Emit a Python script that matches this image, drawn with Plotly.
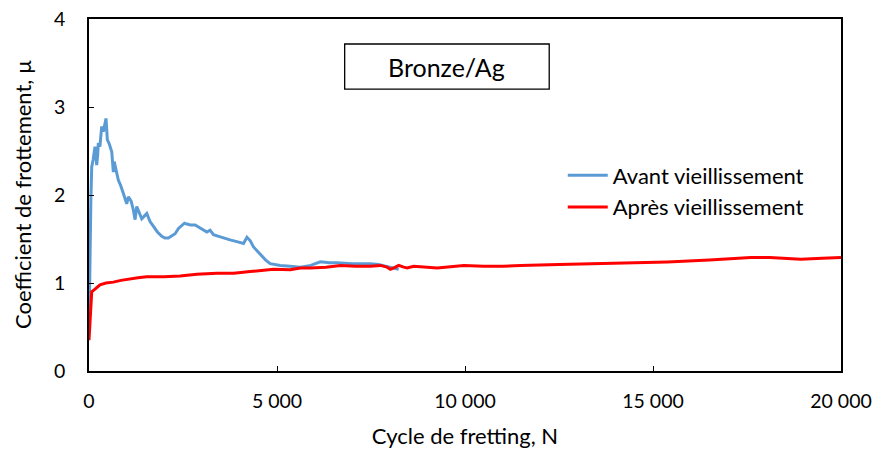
import plotly.graph_objects as go

# Friction coefficient vs. fretting cycles, Bronze/Ag contact
avant_cycles = [0, 20, 50, 72, 110, 160, 205, 230, 248, 290, 338, 381, 420, 453, 487,
                540, 605, 647, 670, 692, 740, 780, 850, 913, 960, 1004, 1047, 1120,
                1180, 1225, 1270, 1340, 1403, 1470, 1537, 1620, 1712, 1820, 1936, 2020,
                2112, 2200, 2290, 2380, 2469, 2540, 2602, 2700, 2823, 2950, 3050, 3134,
                3220, 3310, 3450, 3577, 3750, 3933, 4020, 4109, 4200, 4290, 4375, 4480,
                4599, 4700, 4820, 4950, 5086, 5350, 5619, 5900, 6152, 6400, 6596, 7000,
                7483, 7700, 7927, 8100, 8237]
avant_mu = [0.45, 1.30, 1.95, 2.32, 2.40, 2.55, 2.34, 2.45, 2.59, 2.55, 2.78, 2.72, 2.80,
            2.87, 2.63, 2.58, 2.49, 2.26, 2.38, 2.34, 2.22, 2.17, 2.10, 2.02, 1.96, 1.90,
            1.98, 1.93, 1.83, 1.72, 1.87, 1.80, 1.73, 1.76, 1.79, 1.70, 1.64, 1.58, 1.53,
            1.51, 1.51, 1.54, 1.56, 1.62, 1.66, 1.68, 1.67, 1.66, 1.66, 1.63, 1.60, 1.58,
            1.60, 1.55, 1.53, 1.51, 1.49, 1.47, 1.46, 1.45, 1.52, 1.48, 1.41, 1.36, 1.30,
            1.26, 1.22, 1.21, 1.20, 1.19, 1.18, 1.20, 1.24, 1.23, 1.23, 1.22, 1.22, 1.21,
            1.19, 1.17, 1.155]

apres_cycles = [0, 40, 72, 160, 293, 450, 647, 850, 1092, 1300, 1537, 2000, 2423, 2868,
                3401, 3850, 4287, 4600, 4908, 5353, 5619, 5885, 6300, 6684, 7100, 7483,
                7749, 7927, 8016, 8149, 8237, 8370, 8460, 8636, 8900, 9259, 9968, 10500,
                11025, 11477, 12500, 13608, 14500, 15384, 16500, 17600, 18100, 18481,
                18933, 19500, 20000]
apres_mu = [0.35, 0.70, 0.90, 0.93, 0.98, 1.00, 1.01, 1.03, 1.05, 1.06, 1.07, 1.07, 1.08,
            1.10, 1.11, 1.11, 1.13, 1.14, 1.155, 1.15, 1.17, 1.17, 1.18, 1.20, 1.19, 1.19,
            1.20, 1.18, 1.155, 1.18, 1.20, 1.18, 1.17, 1.19, 1.18, 1.17, 1.20, 1.19, 1.19,
            1.20, 1.21, 1.22, 1.23, 1.24, 1.26, 1.29, 1.29, 1.28, 1.27, 1.28, 1.29]

x_ticks = [0, 5000, 10000, 15000, 20000]
y_ticks = [0, 1, 2, 3, 4]

FONT = "Lato"
INK = "#000000"

fig = go.Figure()
fig.add_trace(go.Scatter(x=avant_cycles, y=avant_mu, mode="lines",
                         name="Avant vieillissement",
                         line=dict(color="#5B9BD5", width=3)))
fig.add_trace(go.Scatter(x=apres_cycles, y=apres_mu, mode="lines",
                         name="Après vieillissement",
                         line=dict(color="#FF0000", width=3)))

fig.update_layout(
    width=877, height=451,
    margin=dict(l=89, r=36, t=19, b=80),
    paper_bgcolor="white", plot_bgcolor="white",
    separators=", ",
    font=dict(family=FONT, size=19, color=INK),
    showlegend=True,
    legend=dict(x=0.63, y=0.51, xanchor="left", yanchor="middle",
                bgcolor="rgba(0,0,0,0)", font=dict(size=22, color=INK),
                itemwidth=40),
    xaxis=dict(range=[0, 20000], tickvals=x_ticks, tickformat=",d",
               ticks="inside", ticklen=5, tickcolor=INK, automargin=False,
               showline=True, linecolor=INK, linewidth=1.5, mirror=True,
               showgrid=False, zeroline=False, ticklabelstandoff=12,
               tickfont=dict(size=19.5, color=INK),
               title=dict(text="Cycle de fretting, N", standoff=17,
                          font=dict(size=22, color=INK))),
    yaxis=dict(range=[0, 4], tickvals=y_ticks,
               ticks="inside", ticklen=5, tickcolor=INK, automargin=False,
               showline=True, linecolor=INK, linewidth=1.5, mirror=True,
               showgrid=False, zeroline=False, ticklabelstandoff=18,
               tickfont=dict(size=19.5, color=INK)),
)

# Vertical axis title, placed in the left margin
fig.add_annotation(xref="paper", yref="paper", x=-0.089, y=0.5,
                   xanchor="center", yanchor="middle", textangle=-90,
                   text="Coefficient de frottement, µ", showarrow=False,
                   font=dict(family=FONT, size=22, color=INK))

# Boxed label naming the material pair
fig.add_shape(type="rect", xref="paper", yref="paper",
              x0=0.340, x1=0.612, y0=0.801, y1=0.929,
              line=dict(color=INK, width=1.3), fillcolor="white", layer="below")
fig.add_annotation(xref="paper", yref="paper", x=0.476, y=0.865,
                   xanchor="center", yanchor="middle",
                   text="Bronze/Ag", showarrow=False,
                   font=dict(family=FONT, size=25, color=INK))

fig.write_html("out.html")
